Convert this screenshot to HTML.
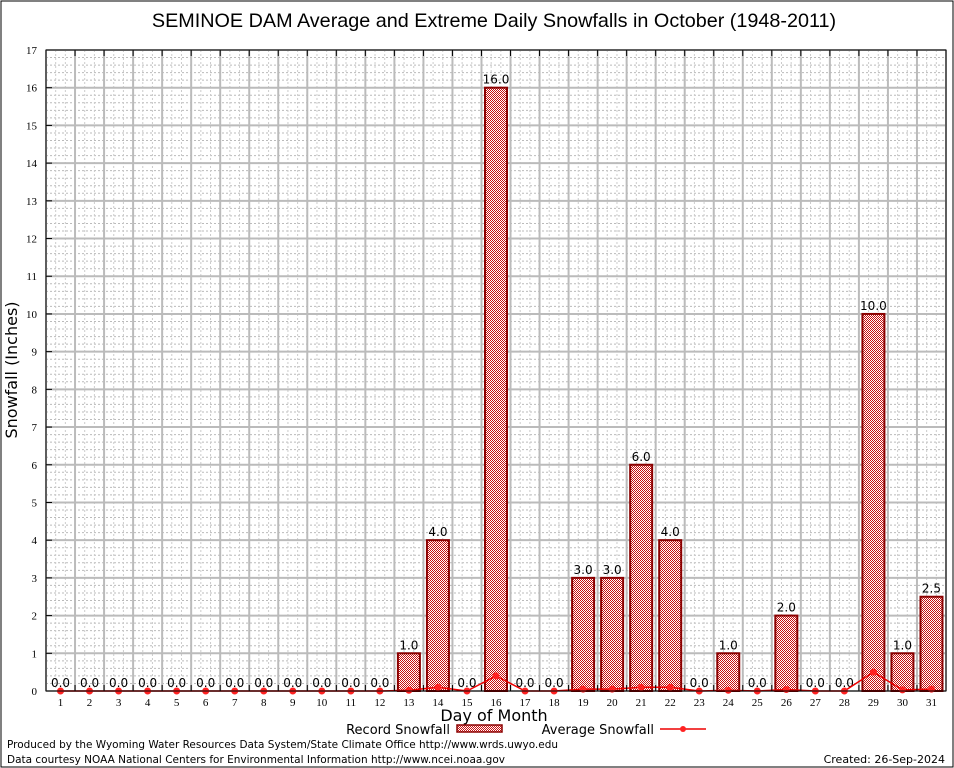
<!DOCTYPE html>
<html><head><meta charset="utf-8"><style>
body{margin:0;background:#fff;}
svg{display:block;font-family:"DejaVu Sans","Liberation Sans",sans-serif;}
</style></head><body>
<svg id="chart" width="954" height="768" viewBox="0 0 954 768">
<defs>
<pattern id="chk" width="2" height="2" patternUnits="userSpaceOnUse">
<rect width="2" height="2" fill="#fff"/><rect width="1" height="1" fill="#c81010"/><rect x="1" y="1" width="1" height="1" fill="#c81010"/>
</pattern>
</defs>
<rect x="1" y="1" width="952" height="766" fill="#fff" stroke="#000" stroke-width="1"/>
<text x="494" y="27" font-size="19.8" text-anchor="middle" font-family="Liberation Sans, sans-serif">SEMINOE DAM Average and Extreme Daily Snowfalls in October (1948-2011)</text>
<g id="grid"></g>
<g id="bars"></g>
<g id="avg"></g>
<g id="axes"></g>
<text x="17" y="370" font-size="16" text-anchor="middle" transform="rotate(-90 17 370)">Snowfall (Inches)</text>
<text x="494" y="721" font-size="16" text-anchor="middle">Day of Month</text>
<g>
<text x="450" y="734" font-size="13" text-anchor="end">Record Snowfall</text>
<rect x="457" y="725" width="45" height="7" fill="url(#chk)" stroke="#8b0000" stroke-width="1.5"/>
<text x="654" y="734" font-size="13" text-anchor="end">Average Snowfall</text>
<line x1="660" y1="729" x2="706" y2="729" stroke="#e00" stroke-width="1.5"/>
<circle cx="683" cy="729" r="3" fill="#f22"/>
</g>
<text x="7" y="748" font-size="11" textLength="551" lengthAdjust="spacingAndGlyphs">Produced by the Wyoming Water Resources Data System/State Climate Office http://www.wrds.uwyo.edu</text>
<text x="7" y="763" font-size="11" textLength="498" lengthAdjust="spacingAndGlyphs">Data courtesy NOAA National Centers for Environmental Information http://www.ncei.noaa.gov</text>
<text x="945" y="763" font-size="11" text-anchor="end">Created: 26-Sep-2024</text>
</svg>
<script>
const days=[1,2,3,4,5,6,7,8,9,10,11,12,13,14,15,16,17,18,19,20,21,22,23,24,25,26,27,28,29,30,31];
const recordVals=[0,0,0,0,0,0,0,0,0,0,0,0,1,4,0,16,0,0,3,3,6,4,0,1,0,2,0,0,10,1,2.5];
const avgVals=[0,0,0,0,0,0,0,0,0,0,0,0,0.02,0.1,0,0.4,0,0,0.05,0.05,0.1,0.1,0,0.02,0,0.04,0,0,0.5,0.03,0.05];
const yTicks=[0,1,2,3,4,5,6,7,8,9,10,11,12,13,14,15,16,17];
const NS='http://www.w3.org/2000/svg';
const L=46,R=946,T=50,B=691,yMax=17;
const step=(R-L)/31;
const xs=d=>L+step*(d-0.5);
const ys=v=>B-(v/yMax)*(B-T);
function mk(tag,a,p){const e=document.createElementNS(NS,tag);for(const k in a)e.setAttribute(k,a[k]);p.appendChild(e);return e;}
const grid=document.getElementById('grid'),bars=document.getElementById('bars'),avg=document.getElementById('avg'),axes=document.getElementById('axes');
for(let v=0;v<=yMax;v+=0.2){const y=ys(v);const l=mk('line',{x1:L,x2:R,y1:y,y2:y,stroke:'#bbb','stroke-width':1,'stroke-dasharray':'2,2'},grid);}
for(let i=0;i<31;i++){for(const f of [1/3,2/3]){const x=L+step*(i+f);const l=mk('line',{x1:x,x2:x,y1:T,y2:B,stroke:'#ccc','stroke-width':1,'stroke-dasharray':'2,2'},grid);}}
yTicks.forEach(v=>{const y=ys(v);const l=mk('line',{x1:L,x2:R,y1:y,y2:y,stroke:'#bbb','stroke-width':2},grid);
const t=mk('text',{x:L-9,y:y+4,'font-size':11,'text-anchor':'end','font-family':'Liberation Serif, serif'},axes);t.textContent=v;
const tk=mk('line',{x1:L,x2:L+6,y1:y,y2:y,stroke:'#000'},axes);});
for(let i=0;i<=31;i++){const x=L+step*i;const l=mk('line',{x1:x,x2:x,y1:T,y2:B,stroke:'#bbb','stroke-width':2},grid);
const tk=mk('line',{x1:x,x2:x,y1:B,y2:B-6,stroke:'#000'},axes);
const tk2=mk('line',{x1:x,x2:x,y1:T,y2:T+6,stroke:'#000'},axes);}
days.forEach((d,i)=>{const v=recordVals[i];const x=xs(d);
if(v>0){const r=mk('rect',{x:x-11,y:ys(v),width:22,height:B-ys(v),fill:'url(#chk)',stroke:'#8b0000','stroke-width':2},bars);}
const t=mk('text',{x:x,y:ys(v)-4,'font-size':12,'text-anchor':'middle'},bars);t.textContent=v.toFixed(1);
const xl=mk('text',{x:x,y:B+15,'font-size':11,'text-anchor':'middle','font-family':'Liberation Serif, serif'},axes);xl.textContent=d;});
const pl=mk('polyline',{points:days.map((d,i)=>xs(d)+','+ys(avgVals[i])).join(' '),fill:'none',stroke:'#e00','stroke-width':1.5},avg);

days.forEach((d,i)=>{const c=mk('circle',{cx:xs(d),cy:ys(avgVals[i]),r:3.5,fill:'#f22'},avg);});
const fr=mk('rect',{x:L,y:T,width:R-L,height:B-T,fill:'none',stroke:'#000','stroke-width':1},axes);
</script>
</body></html>
